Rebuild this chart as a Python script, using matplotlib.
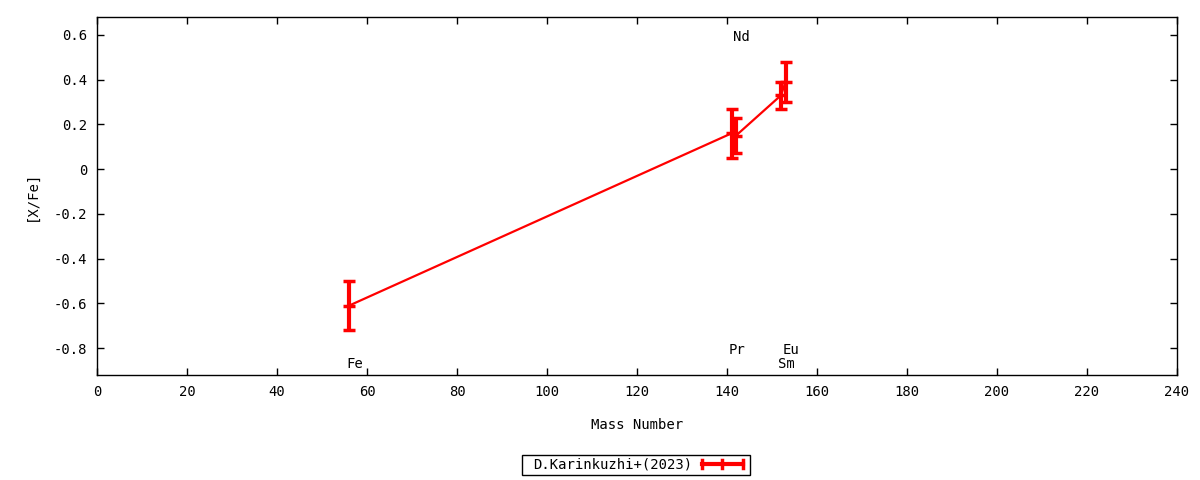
import matplotlib
matplotlib.use("Agg")
import matplotlib.pyplot as plt
from matplotlib.patches import Rectangle
from matplotlib.lines import Line2D

elements = ["Fe", "Pr", "Nd", "Sm", "Eu"]
mass = [56, 141, 142, 152, 153]
xfe = [-0.61, 0.16, 0.15, 0.33, 0.39]
err = [0.11, 0.11, 0.08, 0.06, 0.09]
label_y = [-0.87, -0.81, 0.59, -0.87, -0.81]
xticks = list(range(0, 241, 20))
yticks = [-0.8, -0.6, -0.4, -0.2, 0, 0.2, 0.4, 0.6]
ytick_labels = ["-0.8", "-0.6", "-0.4", "-0.2", "0", "0.2", "0.4", "0.6"]
legend_label = "D.Karinkuzhi+(2023)"

plt.rcParams['font.family'] = ['DejaVu Sans Mono']
fs = 10
fig = plt.figure(figsize=(12, 4.8), dpi=100)
ax = fig.add_axes([97/1200, 1-375/480, 1080/1200, 358/480])

red = "#ff0000"
ax.errorbar(mass, xfe, yerr=err, color=red, lw=1.6, elinewidth=3, capsize=4.5,
            capthick=2.5, marker='_', markersize=8, markeredgewidth=2.5, zorder=3)

for el, m, ly in zip(elements, mass, label_y):
    ax.text(m + 1.2, ly, el, ha='center', va='center', fontsize=fs)

ax.set_xlim(0, 240)
ax.set_ylim(-0.92, 0.68)
ax.set_xticks(xticks)
ax.set_xticklabels([str(t) for t in xticks], fontsize=fs)
ax.set_yticks(yticks)
ax.set_yticklabels(ytick_labels, fontsize=fs)
ax.tick_params(direction='in', length=5, width=1, top=True, right=True, pad=7)
for s in ax.spines.values():
    s.set_linewidth(1)
ax.set_xlabel("Mass Number", fontsize=fs, labelpad=14)
ax.set_ylabel("[X/Fe]", fontsize=fs, labelpad=11)

# legend drawn manually in figure pixel coords
def fx(px):
    return px / 1200
def fy(py):
    return 1 - py / 480
fig.patches.append(Rectangle((fx(522), fy(475)), fx(750) - fx(522), fy(455) - fy(475),
                             transform=fig.transFigure, fill=False, edgecolor='black', lw=1))
fig.text(fx(692), fy(465), legend_label, ha='right', va='center', fontsize=fs)
fig.lines.append(Line2D([fx(702), fx(743)], [fy(464), fy(464)], transform=fig.transFigure,
                        color=red, lw=3))
for px in [702, 722, 743]:
    fig.lines.append(Line2D([fx(px), fx(px)], [fy(460), fy(468)], transform=fig.transFigure,
                            color=red, lw=2.5))

fig.savefig("out.png", dpi=100)
